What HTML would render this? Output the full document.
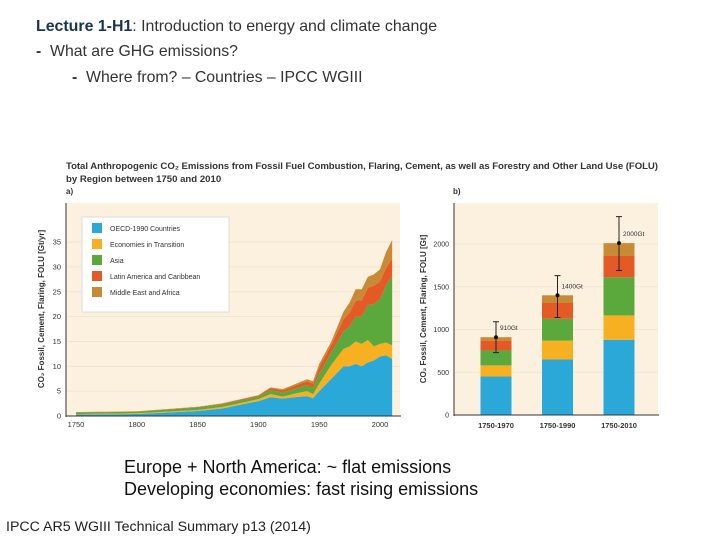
<!DOCTYPE html>
<html><head><meta charset="utf-8">
<style>
body{margin:0;width:720px;height:540px;background:#fff;overflow:hidden;font-family:"Liberation Sans",Arial,sans-serif;position:relative}
.t{position:absolute;white-space:nowrap;color:#222}
</style></head>
<body>
<div class="t" style="left:36px;top:18px;font-size:15.9px;color:#333"><b style="color:#1b3550">Lecture 1-H1</b>: Introduction to energy and climate change</div>
<div class="t" style="left:36px;top:43px;font-size:15.8px;color:#333"><b>-</b>&nbsp; What are GHG emissions?</div>
<div class="t" style="left:72px;top:69px;font-size:15.8px;color:#333"><b>-</b>&nbsp; Where from? – Countries – IPCC WGIII</div>
<div class="t" style="left:124px;top:457px;font-size:18px;color:#111">Europe + North America: ~ flat emissions</div>
<div class="t" style="left:124px;top:479px;font-size:18px;color:#111">Developing economies: fast rising emissions</div>
<div class="t" style="left:6px;top:519px;font-size:14.2px;color:#222">IPCC AR5 WGIII Technical Summary p13 (2014)</div>

<svg id="chart" width="720" height="540" style="position:absolute;left:0;top:0" font-family="Liberation Sans, Arial, sans-serif">
<text x="66" y="169" font-size="9.6" font-weight="bold" fill="#333" textLength="592">Total Anthropogenic CO₂ Emissions from Fossil Fuel Combustion, Flaring, Cement, as well as Forestry and Other Land Use (FOLU)</text>
<text x="66" y="182" font-size="9.6" font-weight="bold" fill="#333">by Region between 1750 and 2010</text>
<text x="66" y="194" font-size="8" font-weight="bold" fill="#333">a)</text>
<text x="453" y="194" font-size="8" font-weight="bold" fill="#333">b)</text>
<rect x="66" y="203" width="334" height="213" fill="#fcf1de"/>
<rect x="454" y="203" width="204" height="212" fill="#fcf1de"/>
<g id="ga"></g><g id="gb"></g>
<text transform="translate(44,309) rotate(-90)" text-anchor="middle" font-size="8" font-weight="bold" fill="#333">CO₂ Fossil, Cement, Flaring, FOLU [Gt/yr]</text>
<text transform="translate(426,309) rotate(-90)" text-anchor="middle" font-size="8" font-weight="bold" fill="#333">CO₂ Fossil, Cement, Flaring, FOLU [Gt]</text>
</svg>
<script>
const regions=["OECD-1990 Countries","Economies in Transition","Asia","Latin America and Caribbean","Middle East and Africa"];
const colors=["#2aa9d8","#f6b022","#5ba83d","#e45a26","#c98a35"];
const years=[1750,1800,1850,1870,1900,1910,1920,1930,1940,1945,1950,1960,1970,1975,1980,1985,1990,1995,2000,2005,2010];
const oecd=[0.3,0.4,1.0,1.5,3.0,3.8,3.5,3.8,4.0,3.6,5,7.5,10,10,10.5,10,10.8,11.2,12,12.2,11.5];
const eit=[0.1,0.15,0.2,0.3,0.4,0.6,0.4,0.7,1.0,0.8,1.5,2.8,3.5,4,4.5,4.5,4.5,2.8,2.5,2.6,2.7];
const asia=[0.3,0.3,0.5,0.5,0.5,0.8,0.8,1.0,1.2,1.2,2,2.5,3.5,4,5,5.5,7,8.5,9,11.5,14];
const latam=[0.05,0.05,0.1,0.15,0.2,0.4,0.5,0.6,0.8,0.9,1.3,1.5,2.5,2.8,3.2,3.3,3.5,3.7,3.6,3.5,3.5];
const mea=[0.05,0.05,0.05,0.08,0.1,0.15,0.2,0.3,0.4,0.5,0.7,0.7,1.5,2,2.3,2.2,2.2,2.3,2.4,3.2,3.7];
const yTicksA=[0,5,10,15,20,25,30,35];
const xTicksA=[1750,1800,1850,1900,1950,2000];
const periods=["1750-1970","1750-1990","1750-2010"];
const bOecd=[450,650,880];
const bEit=[130,220,285];
const bAsia=[175,255,445];
const bLatam=[115,185,250];
const bMea=[40,90,150];
const bTotalLabels=["910Gt","1400Gt","2000Gt"];
const bTotal=[910,1400,2010];
const errLo=[730,1140,1690];
const errHi=[1090,1630,2320];
const yTicksB=[0,500,1000,1500,2000];

const NS="http://www.w3.org/2000/svg";
function mk(tag,attrs,parent){const e=document.createElementNS(NS,tag);for(const k in attrs)e.setAttribute(k,attrs[k]);parent.appendChild(e);return e;}
const xA=y=>76+(y-1750)*1.216;
const yA=v=>416-v*4.97;
const yB=v=>415-v*0.0855;
const bxB=i=>496+i*61.5;

const ga=document.getElementById('ga');
yTicksA.forEach(t=>{
  if(t>0){const l=mk('line',{x1:66,x2:400,y1:yA(t),y2:yA(t),stroke:'#ede3d0','stroke-width':0.8},ga);
  
  }
  const tx=mk('text',{x:61,y:yA(t)+2.5,'font-size':7.5,'text-anchor':'end',fill:'#333'},ga);tx.textContent=t;
  
  
});
const series=[oecd,eit,asia,latam,mea];
const cum=years.map(()=>0);
series.forEach((s,si)=>{
  const lower=cum.slice();
  s.forEach((v,i)=>cum[i]+=v);
  let d='M'+years.map((y,i)=>xA(y)+','+yA(cum[i])).join('L');
  for(let i=years.length-1;i>=0;i--)d+='L'+xA(years[i])+','+yA(lower[i]);
  const p=mk('path',{d:d+'Z',fill:colors[si]},ga);
  
  
});
mk('line',{x1:66,x2:66,y1:203,y2:417,stroke:'#333','stroke-width':1},ga);
mk('line',{x1:66,x2:401,y1:416,y2:416,stroke:'#333','stroke-width':1},ga);
xTicksA.forEach(t=>{
  const tx=mk('text',{x:xA(t),y:427,'font-size':7.5,'text-anchor':'middle',fill:'#333'},ga);tx.textContent=t;
  
  
});
const lg=mk('g',{},ga);


mk('rect',{x:82,y:217,width:147,height:95,fill:'#fff',stroke:'#ddd'},lg);
regions.forEach((r,i)=>{
  const yy=228+i*16;
  const sw=mk('rect',{x:92,y:yy-5,width:10,height:10,fill:colors[i]},lg);
  
  
  const tx=mk('text',{x:110,y:yy+3,'font-size':7,fill:'#333'},lg);tx.textContent=r;
  
  
});

const gb=document.getElementById('gb');
yTicksB.forEach(t=>{
  if(t>0){const l=mk('line',{x1:454,x2:658,y1:yB(t),y2:yB(t),stroke:'#ede3d0','stroke-width':0.8},gb);
  
  }
  const tx=mk('text',{x:449,y:yB(t)+2.5,'font-size':7,'text-anchor':'end',fill:'#333'},gb);tx.textContent=t;
  
  
});
const bs=[bOecd,bEit,bAsia,bLatam,bMea];
periods.forEach((p,i)=>{
  let c=0;
  bs.forEach((s,si)=>{
    const r=mk('rect',{x:bxB(i)-15.5,y:yB(c+s[i]),width:31,height:yB(c)-yB(c+s[i]),fill:colors[si]},gb);
    
    
    c+=s[i];
  });
  const x=bxB(i);
  const e=mk('path',{d:`M${x},${yB(errLo[i])}V${yB(errHi[i])}M${x-3},${yB(errLo[i])}H${x+3}M${x-3},${yB(errHi[i])}H${x+3}`,stroke:'#222','stroke-width':1,fill:'none'},gb);
  
  
  const d=mk('circle',{cx:x,cy:yB(bTotal[i]),r:2,fill:'#111'},gb);
  
  
  const lt=mk('text',{x:x+4,y:yB(bTotal[i])-7,'font-size':6.5,fill:'#333'},gb);lt.textContent=bTotalLabels[i];
  
  
  const xt=mk('text',{x:x,y:428,'font-size':7.5,'font-weight':'bold','text-anchor':'middle',fill:'#333'},gb);xt.textContent=p;
  
  
});
mk('line',{x1:454,x2:454,y1:203,y2:416,stroke:'#333','stroke-width':1},gb);
mk('line',{x1:454,x2:659,y1:415,y2:415,stroke:'#333','stroke-width':1},gb);
</script>
</body></html>
